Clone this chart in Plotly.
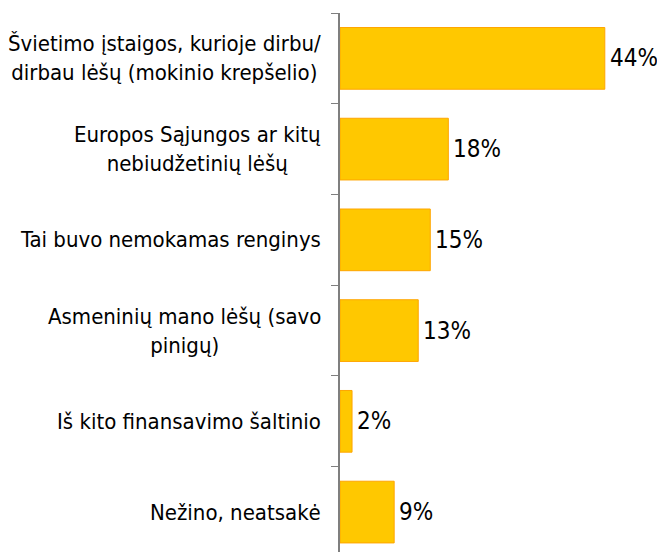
import plotly.graph_objects as go

categories = [
    "Švietimo įstaigos, kurioje dirbu/<br>dirbau lėšų (mokinio krepšelio)",
    "Europos Sąjungos ar kitų<br>nebiudžetinių lėšų",
    "Tai buvo nemokamas renginys",
    "Asmeninių mano lėšų (savo<br>pinigų)",
    "Iš kito finansavimo šaltinio",
    "Nežino, neatsakė",
]
values = [44, 18, 15, 13, 2, 9]

FONT = "DejaVu Sans Condensed"

fig = go.Figure()
fig.add_trace(go.Bar(
    x=values,
    y=categories,
    orientation="h",
    width=0.68,
    marker=dict(color="#FFC800", line=dict(color="#FFA500", width=1)),
    cliponaxis=False,
    hoverinfo="skip",
))

for c, v in zip(categories, values):
    fig.add_annotation(
        x=0, y=c, xref="x", yref="y",
        text=c, showarrow=False,
        xanchor="right", yanchor="middle", align="center",
        xshift=-17,
        font=dict(family=FONT, size=22, color="#000000"),
    )
    fig.add_annotation(
        x=v, y=c, xref="x", yref="y",
        text=f"{v}%", showarrow=False,
        xanchor="left", yanchor="middle",
        xshift=3,
        font=dict(family=FONT, size=24, color="#000000"),
    )

fig.update_layout(
    width=657, height=544,
    margin=dict(l=332, r=0, t=5, b=0),
    paper_bgcolor="white", plot_bgcolor="white",
    showlegend=False,
    bargap=0.32,
)
fig.update_xaxes(
    range=[0, 54], visible=False, showgrid=False, zeroline=False,
)
fig.update_yaxes(
    type="category",
    categoryorder="array", categoryarray=categories,
    range=[5.44, -0.5],
    showticklabels=False,
    showgrid=False, zeroline=False,
    showline=True, linecolor="#7F7F7F", linewidth=2,
    ticks="outside", tickson="boundaries", ticklen=7,
    tickcolor="#7F7F7F", tickwidth=1,
)

fig.write_html("out.html")
